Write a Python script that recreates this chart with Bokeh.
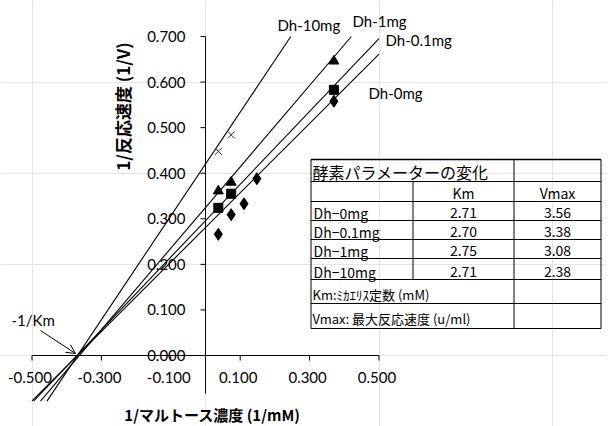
from bokeh.plotting import figure
from bokeh.models import Range1d, Arrow, OpenHead
from bokeh.core.properties import value
from bokeh.embed import file_html
from bokeh.resources import INLINE
import numpy as np

# ---------------- data ----------------
series_names = ["Dh-0mg", "Dh-0.1mg", "Dh-1mg", "Dh-10mg"]
table_names = ["Dh\u22120mg", "Dh\u22120.1mg", "Dh\u22121mg", "Dh\u221210mg"]
km_values = [2.71, 2.70, 2.75, 2.71]
vmax_values = [3.56, 3.38, 3.08, 2.38]

x_dh0 = [0.037, 0.074, 0.111, 0.148, 0.370]
y_dh0 = [0.266, 0.309, 0.333, 0.388, 0.558]
x_dh01 = [0.037, 0.074, 0.370]
y_dh01 = [0.324, 0.355, 0.583]
x_dh1 = [0.037, 0.074, 0.370]
y_dh1 = [0.361, 0.380, 0.646]
x_dh10 = [0.037, 0.074]
y_dh10 = [0.448, 0.484]

x_ticks = [-0.5, -0.3, -0.1, 0.1, 0.3, 0.5]
y_ticks = [0.0, 0.1, 0.2, 0.3, 0.4, 0.5, 0.6, 0.7]
x_tick_labels = ["-0.500", "-0.300", "-0.100", "0.100", "0.300", "0.500"]
y_tick_labels = ["0.000", "0.100", "0.200", "0.300", "0.400", "0.500", "0.600", "0.700"]

XMIN, XMAX = -0.5, 0.5
YMIN, YMAX = -0.1, 0.7

# ---------------- page geometry (page pixels -> data) ----------------
W, H = 606, 426
OFF = 0                  # canvas origin on the page (as observed)
PX0, SX = 205.0, 347.0   # page x of data x=0, px per unit
PY0, SY = 355.0, 455.7   # page y of data y=0, px per unit


def X(px):
    return (px - PX0) / SX


def Y(py):
    return (PY0 - py) / SY


p = figure(width=W, height=H, output_backend="svg", toolbar_location=None,
           x_range=Range1d(X(OFF), X(OFF + W)), y_range=Range1d(Y(OFF + H), Y(OFF)),
           x_axis_location=None, y_axis_location=None, min_border=0)
p.outline_line_color = None
p.background_fill_color = "white"
p.border_fill_color = "white"

TICKFONT = value("Lato")
CJK = value("Noto Sans CJK JP")

# ---------------- tick labels ----------------
p.text(x=x_ticks, y=[Y(377)] * len(x_ticks), text=x_tick_labels, x_offset=-2,
       text_font=TICKFONT, text_font_size="15px", text_align="center",
       text_baseline="middle", text_color="black")
p.text(x=[X(185)] * len(y_ticks), y=y_ticks, text=y_tick_labels,
       text_font=TICKFONT, text_font_size="15px", text_align="right",
       text_baseline="middle", text_color="black")

# ---------------- axes ----------------
p.segment(x0=[XMIN], y0=[0], x1=[XMAX], y1=[0], line_color="black", line_width=1)
p.segment(x0=[0], y0=[Y(393)], x1=[0], y1=[YMAX], line_color="black", line_width=1)
p.segment(x0=x_ticks, y0=[0] * len(x_ticks), x1=x_ticks, y1=[-5 / SY] * len(x_ticks),
          line_color="black", line_width=1)
p.segment(x0=[0] * len(y_ticks), y0=y_ticks, x1=[-5 / SX] * len(y_ticks), y1=y_ticks,
          line_color="black", line_width=1)

# ---------------- trendlines ----------------
for km, vm in zip(km_values, vmax_values):
    m, b = km / vm, 1.0 / vm
    xl = max(XMIN, (YMIN - b) / m)
    xh = min(XMAX, (YMAX - b) / m)
    p.line([xl, xh], [m * xl + b, m * xh + b], line_color="black", line_width=1.1)

# ---------------- points ----------------
p.scatter(x_dh0, y_dh0, marker="diamond", size=12, fill_color="black", line_color="black")
p.scatter(x_dh01, y_dh01, marker="square", size=9, fill_color="black", line_color="black")
p.scatter(x_dh1, y_dh1, marker="triangle", size=10, fill_color="black", line_color="black")
p.scatter(x_dh10, y_dh10, marker="x", size=10, line_color="#333333", line_width=1)

# ---------------- series labels ----------------
p.text(x=[X(277), X(352), X(385), X(368)], y=[Y(24), Y(20), Y(39), Y(92)],
       text=[series_names[3], series_names[2], series_names[1], series_names[0]],
       text_font=TICKFONT, text_font_size="15px", text_align="left",
       text_baseline="middle", text_color="black")

p.text(x=[X(11)], y=[Y(319)], text=["-1/Km"], text_font=TICKFONT, text_font_size="15px",
       text_align="left", text_baseline="middle", text_color="black")
p.add_layout(Arrow(end=OpenHead(size=9, line_width=1, line_color="black"),
                   x_start=X(40), y_start=Y(330), x_end=X(75), y_end=Y(353),
                   line_color="black", line_width=1))

# ---------------- axis titles ----------------
p.text(x=[X(122)], y=[Y(106)], text=["1/反応速度 (1/V)"], angle=np.pi / 2,
       text_font=CJK, text_font_size="17px", text_font_style="bold",
       text_align="center", text_baseline="middle", text_color="black")
p.text(x=[X(212)], y=[Y(414)], text=["1/マルトース濃度 (1/mM)"],
       text_font=CJK, text_font_size="15px", text_font_style="bold",
       text_align="center", text_baseline="middle", text_color="black")

# ---------------- table ----------------
TL, TC1, TC2, TR = 310.5, 412.5, 513.5, 600.5
rows_y = [159, 181, 201, 220, 239, 258, 279, 303, 328]
# horizontal rules
p.segment(x0=[X(TL)] * len(rows_y), y0=[Y(r) for r in rows_y],
          x1=[X(TR)] * len(rows_y), y1=[Y(r) for r in rows_y],
          line_color="black", line_width=1)
p.segment(x0=[X(TL)], y0=[Y(rows_y[0])], x1=[X(TR)], y1=[Y(rows_y[0])],
          line_color="black", line_width=1.6)
# vertical rules
vx0 = [TL, TC2, TR, TC1]
vy0 = [rows_y[0], rows_y[0], rows_y[0], rows_y[1]]
vy1 = [rows_y[-1], rows_y[-1], rows_y[-1], rows_y[6]]
p.segment(x0=[X(v) for v in vx0], y0=[Y(v) for v in vy0],
          x1=[X(v) for v in vx0], y1=[Y(v) for v in vy1],
          line_color="black", line_width=1)

# title row
p.text(x=[X(312)], y=[Y(rows_y[1] - 10)], text=["酵素パラメーターの変化"],
       text_font=CJK, text_font_size="16px", text_align="left",
       text_baseline="middle", text_color="black")
# header
p.text(x=[X((TC1 + TC2) / 2), X((TC2 + TR) / 2)], y=[Y(rows_y[2] - 9)] * 2,
       text=["Km", "Vmax"], text_font=CJK, text_font_size="14px",
       text_align="center", text_baseline="middle", text_color="black")
# body rows
body_y = [Y(rows_y[3 + i] - 8) for i in range(4)]
p.text(x=[X(313)] * 4, y=body_y, text=table_names, text_font=CJK,
       text_font_size="14px", text_align="left", text_baseline="middle",
       text_color="black")
p.text(x=[X((TC1 + TC2) / 2)] * 4, y=body_y, text=[f"{v:.2f}" for v in km_values],
       text_font=CJK, text_font_size="14px", text_align="center",
       text_baseline="middle", text_color="black")
p.text(x=[X((TC2 + TR) / 2)] * 4, y=body_y, text=[f"{v:.2f}" for v in vmax_values],
       text_font=CJK, text_font_size="14px", text_align="center",
       text_baseline="middle", text_color="black")
# notes
p.text(x=[X(312), X(312)], y=[Y(rows_y[7] - 9), Y(rows_y[8] - 10)],
       text=["Km:ﾐｶｴﾘｽ定数 (mM)", "Vmax: 最大反応速度 (u/ml)"],
       text_font=CJK, text_font_size="13px", text_align="left",
       text_baseline="middle", text_color="black")

open("out.html", "w").write(file_html(p, INLINE))
